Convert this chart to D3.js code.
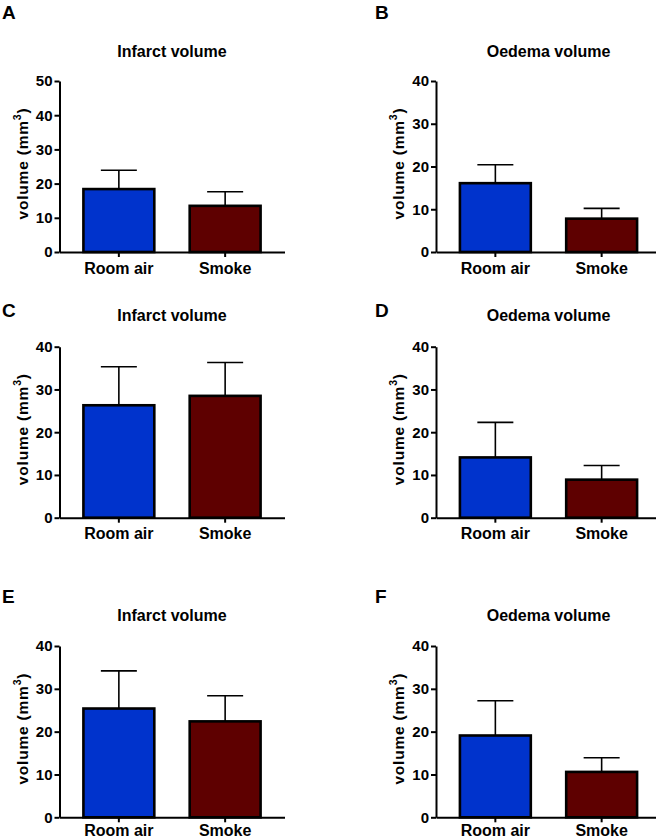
<!DOCTYPE html>
<html>
<head>
<meta charset="utf-8">
<script src="https://cdn.jsdelivr.net/npm/d3@7"></script>
<style>
  body { margin: 0; background: #fff; }
  svg { display: block; font-family: "Liberation Sans", Arial, sans-serif; }
</style>
</head>
<body>
<svg id="chart" width="656" height="840"></svg>
<script>
// ---- data ----
const categories = ["Room air", "Smoke"];
const panelLetters = ["A", "B", "C", "D", "E", "F"];
const panelTitles = ["Infarct volume", "Oedema volume", "Infarct volume", "Oedema volume", "Infarct volume", "Oedema volume"];
const roomAirMeans = [18.4, 16.1, 26.3, 14.1, 25.4, 19.1];
const smokeMeans   = [13.5,  7.8, 28.5,  8.9, 22.4, 10.6];
const roomAirErr   = [5.5, 4.3, 9.0, 8.2, 8.8, 8.1];
const smokeErr     = [4.1, 2.4, 7.8, 3.3, 6.0, 3.3];
const yMaxes = [50, 40, 40, 40, 40, 40];
const yTickStep = 10;
const barColors = ["#0033CC", "#5E0000"];

// ---- layout ----
const colX = [59.5, 436];
const rowTop = [81, 346.7, 646];
const rowBot = [252, 517.7, 817.3];
const catLabelOffset = [22, 21, 19];
const letterBase = [19, 317, 603];
const titleBase = [57, 321, 621];
const letterX = [2, 375];
const bandWidth = 225;

const svg = d3.select("#chart");

panelLetters.forEach((letter, i) => {
  const col = i % 2, row = Math.floor(i / 2);
  const x0 = colX[col], yTop = rowTop[row], yBot = rowBot[row];
  const g = svg.append("g");

  const x = d3.scaleBand().domain(categories).range([x0, x0 + bandWidth])
    .paddingInner(0.333).paddingOuter(0.225);
  const y = d3.scaleLinear().domain([0, yMaxes[i]]).range([yBot, yTop]);

  const rows = categories.map((c, k) => ({
    cat: c,
    mean: k === 0 ? roomAirMeans[i] : smokeMeans[i],
    err: k === 0 ? roomAirErr[i] : smokeErr[i],
    color: barColors[k]
  }));

  // error bars (upper only)
  const capW = 36;
  rows.forEach(d => {
    const cx = x(d.cat) + x.bandwidth() / 2;
    g.append("line").attr("x1", cx).attr("x2", cx)
      .attr("y1", y(d.mean)).attr("y2", y(d.mean + d.err))
      .attr("stroke", "#000").attr("stroke-width", 1.6);
    g.append("line").attr("x1", cx - capW / 2).attr("x2", cx + capW / 2)
      .attr("y1", y(d.mean + d.err)).attr("y2", y(d.mean + d.err))
      .attr("stroke", "#000").attr("stroke-width", 1.6);
  });

  // bars
  g.selectAll("rect.bar").data(rows).join("rect")
    .attr("class", "bar")
    .attr("x", d => x(d.cat))
    .attr("width", x.bandwidth())
    .attr("y", d => y(d.mean))
    .attr("height", d => y(0) - y(d.mean))
    .attr("fill", d => d.color)
    .attr("stroke", "#000")
    .attr("stroke-width", 2.6);

  // y axis
  const yAxis = g.append("g").attr("transform", `translate(${x0},0)`)
    .call(d3.axisLeft(y).tickValues(d3.range(0, yMaxes[i] + 1, yTickStep))
      .tickSize(5).tickSizeOuter(0).tickPadding(2));
  yAxis.select(".domain").attr("stroke-width", 2);
  yAxis.selectAll(".tick line").attr("stroke-width", 2);
  yAxis.selectAll("text").attr("font-size", 15).attr("font-weight", "bold")
    .attr("fill", "#000").attr("font-family", "'Liberation Sans', Arial, sans-serif");

  // x axis
  const xAxis = g.append("g").attr("transform", `translate(0,${yBot})`)
    .call(d3.axisBottom(x).tickSize(5).tickSizeOuter(0));
  xAxis.select(".domain").attr("stroke-width", 2);
  xAxis.selectAll(".tick line").attr("stroke-width", 2);
  xAxis.selectAll("text").attr("font-size", 16).attr("font-weight", "bold")
    .attr("fill", "#000").attr("y", catLabelOffset[row]).attr("dy", 0)
    .attr("font-family", "'Liberation Sans', Arial, sans-serif");

  // y axis label
  const lab = g.append("text")
    .attr("transform", `translate(${x0 - 32},${(yTop + yBot) / 2 - 3}) rotate(-90)`)
    .attr("text-anchor", "middle")
    .attr("font-size", 15.5).attr("font-weight", "bold").attr("fill", "#000")
    .attr("letter-spacing", 0.8);
  lab.append("tspan").text("volume (mm");
  lab.append("tspan").attr("font-size", 10.5).attr("dy", -7).text("3");
  lab.append("tspan").attr("dy", 7).text(")");

  // title
  g.append("text").attr("x", x0 + bandWidth / 2).attr("y", titleBase[row])
    .attr("text-anchor", "middle").attr("font-size", 16).attr("font-weight", "bold")
    .attr("fill", "#000").text(panelTitles[i]);

  // panel letter
  g.append("text").attr("x", letterX[col]).attr("y", letterBase[row])
    .attr("font-size", 19).attr("font-weight", "bold").attr("fill", "#000")
    .text(letter);
});
</script>
</body>
</html>
